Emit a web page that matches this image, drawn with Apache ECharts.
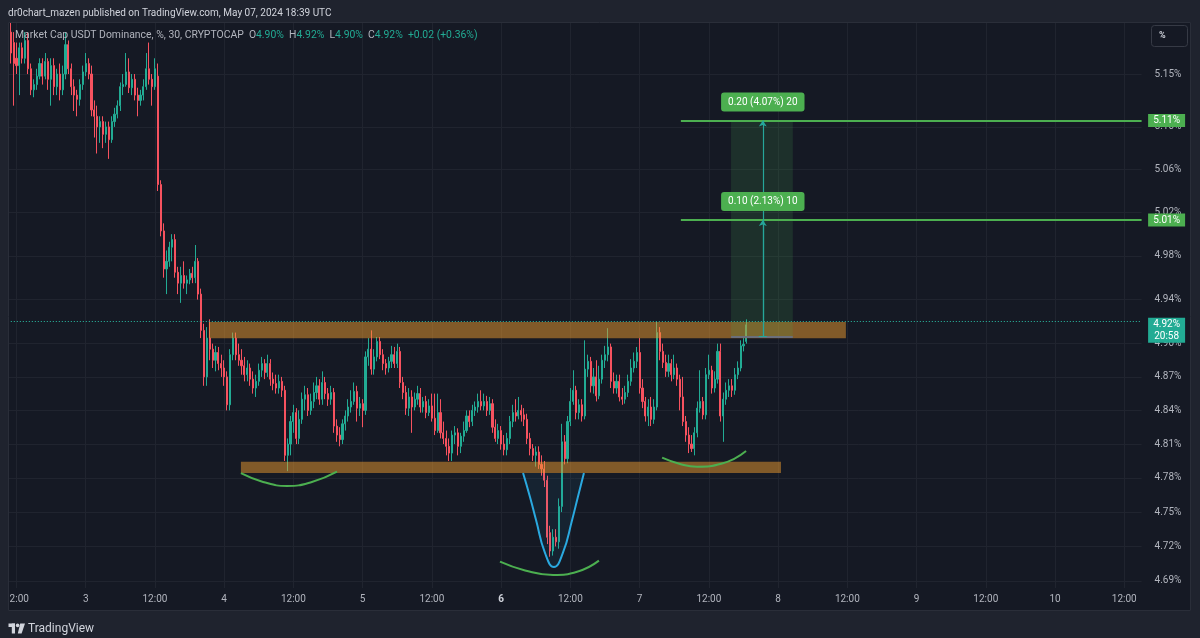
<!DOCTYPE html>
<html><head><meta charset="utf-8">
<script src="https://cdn.jsdelivr.net/npm/echarts@6/dist/echarts.min.js"></script>
<style>html,body{margin:0;padding:0;background:#1f232e}#c{width:1200px;height:638px}</style>
</head><body><div id="c"></div>
<script>
// ---------- time axis (30-minute bars) ----------
const startTimeUTC = Date.UTC(2024, 4, 3, 0, 0); // index 0 = May 3 00:00
const firstIndex = -27;   // leftmost category
const lastIndex = 366;    // rightmost category (empty future space)
const candleStart = -26;  // first drawn candle

// ---------- candles [open, high, low, close] ----------
const candles = [
[5.19,5.20,5.16,5.17],[5.18,5.19,5.12,5.16],[5.165,5.18,5.15,5.158],[5.158,5.18,5.13,5.175],[5.175,5.18,5.16,5.165],
[5.165,5.19,5.16,5.182],[5.182,5.19,5.15,5.155],[5.155,5.16,5.13,5.135],[5.135,5.145,5.128,5.14],[5.14,5.155,5.135,5.148],
[5.148,5.165,5.145,5.16],[5.16,5.165,5.14,5.148],[5.148,5.17,5.145,5.162],[5.162,5.165,5.135,5.145],[5.145,5.165,5.12,5.158],
[5.158,5.165,5.13,5.138],[5.138,5.155,5.13,5.15],[5.15,5.16,5.125,5.135],[5.135,5.158,5.13,5.15],[5.15,5.19,5.145,5.178],
[5.178,5.182,5.15,5.155],[5.155,5.16,5.13,5.138],[5.138,5.145,5.115,5.13],[5.13,5.135,5.11,5.126],[5.126,5.145,5.12,5.14],
[5.14,5.158,5.135,5.152],
// May 3
[5.152,5.17,5.148,5.16],[5.16,5.165,5.145,5.15],[5.15,5.158,5.11,5.116],[5.116,5.125,5.09,5.11],[5.11,5.12,5.075,5.10],
[5.10,5.11,5.085,5.105],[5.105,5.11,5.08,5.093],[5.093,5.105,5.085,5.10],[5.10,5.105,5.07,5.088],[5.088,5.11,5.085,5.105],
[5.105,5.118,5.10,5.112],[5.112,5.125,5.108,5.12],[5.12,5.142,5.115,5.138],[5.138,5.15,5.13,5.14],[5.14,5.17,5.138,5.152],
[5.152,5.165,5.132,5.137],[5.137,5.15,5.13,5.145],[5.145,5.15,5.125,5.13],[5.13,5.137,5.11,5.125],[5.125,5.135,5.12,5.13],
[5.13,5.145,5.125,5.138],[5.138,5.17,5.135,5.155],[5.155,5.18,5.14,5.145],[5.145,5.15,5.12,5.138],[5.138,5.165,5.135,5.155],
[5.148,5.16,5.04,5.046],[5.046,5.05,4.998,5.003],[5.003,5.01,4.96,4.968],[4.968,4.985,4.945,4.975],[4.975,4.993,4.97,4.988],
[4.988,5.0,4.975,4.995],[4.995,5.0,4.96,4.965],[4.965,4.97,4.945,4.955],[4.955,4.97,4.937,4.962],[4.962,4.975,4.95,4.955],
[4.955,4.962,4.945,4.958],[4.958,4.968,4.954,4.964],[4.964,4.97,4.955,4.96],[4.96,4.99,4.955,4.975],[4.975,4.978,4.94,4.945],
[4.945,4.95,4.905,4.912],[4.912,4.918,4.862,4.87],[4.87,4.915,4.862,4.905],[4.905,4.922,4.885,4.895],[4.895,4.9,4.878,4.885],
[4.885,4.898,4.875,4.892],[4.892,4.897,4.876,4.882],[4.882,4.89,4.87,4.878],
// May 4
[4.878,4.885,4.862,4.87],[4.87,4.875,4.84,4.845],[4.845,4.895,4.84,4.89],[4.89,4.91,4.885,4.905],[4.905,4.91,4.885,4.89],
[4.89,4.9,4.88,4.885],[4.885,4.895,4.872,4.88],[4.88,4.888,4.866,4.872],[4.872,4.885,4.866,4.878],[4.878,4.882,4.862,4.868],
[4.868,4.875,4.855,4.86],[4.86,4.872,4.852,4.866],[4.866,4.882,4.862,4.876],[4.876,4.888,4.87,4.882],[4.882,4.886,4.868,4.874],
[4.874,4.89,4.87,4.882],[4.882,4.886,4.862,4.868],[4.868,4.874,4.858,4.864],[4.864,4.872,4.855,4.86],[4.86,4.872,4.855,4.866],
[4.866,4.87,4.852,4.858],[4.858,4.862,4.795,4.80],[4.80,4.815,4.786,4.81],[4.81,4.835,4.80,4.83],[4.83,4.845,4.82,4.838],
[4.838,4.842,4.81,4.815],[4.815,4.84,4.81,4.832],[4.832,4.856,4.828,4.85],[4.85,4.862,4.84,4.854],[4.854,4.86,4.835,4.84],
[4.84,4.855,4.836,4.848],[4.848,4.865,4.842,4.856],[4.856,4.87,4.85,4.862],[4.862,4.868,4.845,4.85],[4.85,4.875,4.845,4.865],
[4.865,4.87,4.85,4.855],[4.855,4.86,4.844,4.85],[4.85,4.862,4.845,4.856],[4.856,4.86,4.82,4.826],[4.826,4.832,4.812,4.818],
[4.818,4.825,4.808,4.814],[4.814,4.832,4.81,4.828],[4.828,4.84,4.822,4.835],[4.835,4.85,4.83,4.843],[4.843,4.858,4.838,4.848],
[4.848,4.865,4.845,4.857],[4.857,4.862,4.83,4.842],[4.842,4.852,4.835,4.846],
// May 5
[4.846,4.85,4.825,4.84],[4.84,4.893,4.836,4.888],[4.888,4.905,4.88,4.895],[4.895,4.912,4.872,4.877],[4.877,4.895,4.872,4.888],
[4.888,4.906,4.884,4.902],[4.902,4.906,4.886,4.89],[4.89,4.895,4.876,4.882],[4.882,4.886,4.872,4.878],[4.878,4.888,4.874,4.884],
[4.884,4.898,4.878,4.89],[4.89,4.897,4.878,4.882],[4.882,4.9,4.878,4.893],[4.893,4.897,4.86,4.865],[4.865,4.87,4.85,4.856],
[4.856,4.862,4.836,4.842],[4.842,4.86,4.835,4.852],[4.852,4.858,4.82,4.843],[4.843,4.856,4.84,4.85],[4.85,4.862,4.845,4.855],
[4.855,4.86,4.838,4.843],[4.843,4.852,4.838,4.848],[4.848,4.853,4.833,4.838],[4.838,4.85,4.835,4.844],[4.844,4.855,4.83,4.833],
[4.833,4.855,4.818,4.822],[4.822,4.855,4.82,4.838],[4.838,4.85,4.815,4.82],[4.82,4.83,4.81,4.815],[4.815,4.822,4.80,4.808],
[4.808,4.815,4.795,4.802],[4.802,4.822,4.795,4.818],[4.818,4.826,4.81,4.82],[4.82,4.824,4.80,4.808],[4.808,4.82,4.802,4.817],
[4.817,4.83,4.812,4.822],[4.822,4.84,4.82,4.835],[4.835,4.84,4.825,4.83],[4.83,4.845,4.826,4.84],[4.84,4.848,4.835,4.843],
[4.843,4.855,4.838,4.848],[4.848,4.858,4.84,4.844],[4.844,4.855,4.84,4.848],[4.848,4.853,4.835,4.84],
// May 6
[4.84,4.852,4.836,4.846],[4.846,4.85,4.82,4.825],[4.825,4.832,4.812,4.815],[4.815,4.828,4.81,4.822],[4.822,4.826,4.805,4.81],
[4.81,4.818,4.80,4.805],[4.805,4.82,4.80,4.815],[4.815,4.835,4.81,4.83],[4.83,4.845,4.825,4.838],[4.838,4.85,4.83,4.835],
[4.835,4.852,4.832,4.84],[4.84,4.845,4.83,4.836],[4.836,4.842,4.826,4.832],[4.832,4.837,4.81,4.815],[4.815,4.82,4.80,4.806],
[4.806,4.81,4.795,4.80],[4.80,4.808,4.79,4.803],[4.803,4.808,4.788,4.792],[4.792,4.80,4.782,4.788],[4.788,4.795,4.772,4.778],
[4.778,4.782,4.722,4.728],[4.732,4.738,4.711,4.716],[4.716,4.735,4.712,4.728],[4.728,4.735,4.72,4.724],[4.724,4.762,4.718,4.755],
[4.755,4.828,4.75,4.812],[4.812,4.818,4.792,4.797],[4.797,4.835,4.793,4.83],[4.83,4.86,4.826,4.848],[4.848,4.876,4.845,4.858],
[4.858,4.862,4.832,4.838],[4.838,4.85,4.832,4.845],[4.845,4.85,4.83,4.835],[4.835,4.903,4.832,4.877],[4.877,4.89,4.87,4.884],
[4.884,4.888,4.856,4.862],[4.862,4.878,4.855,4.87],[4.87,4.885,4.848,4.853],[4.853,4.88,4.85,4.868],[4.868,4.89,4.864,4.885],
[4.885,4.898,4.878,4.89],[4.89,4.914,4.884,4.897],[4.897,4.90,4.86,4.866],[4.866,4.874,4.855,4.86],[4.86,4.872,4.855,4.866],
[4.866,4.872,4.848,4.852],[4.852,4.86,4.845,4.85],[4.85,4.862,4.846,4.856],
// May 7
[4.856,4.872,4.852,4.866],[4.866,4.886,4.862,4.878],[4.878,4.892,4.874,4.884],[4.884,4.897,4.878,4.892],[4.892,4.905,4.855,4.86],
[4.86,4.868,4.842,4.848],[4.848,4.852,4.83,4.835],[4.835,4.85,4.826,4.843],[4.843,4.852,4.826,4.832],[4.832,4.85,4.828,4.843],
[4.843,4.92,4.84,4.91],[4.91,4.915,4.885,4.893],[4.893,4.90,4.878,4.883],[4.883,4.89,4.87,4.875],[4.875,4.89,4.87,4.882],
[4.882,4.886,4.866,4.872],[4.872,4.89,4.868,4.878],[4.878,4.882,4.862,4.868],[4.868,4.872,4.84,4.852],[4.852,4.87,4.826,4.83],
[4.83,4.835,4.812,4.818],[4.818,4.825,4.802,4.81],[4.81,4.818,4.803,4.806],[4.806,4.825,4.80,4.82],[4.82,4.848,4.816,4.842],
[4.842,4.876,4.838,4.848],[4.848,4.852,4.832,4.836],[4.836,4.878,4.832,4.872],[4.872,4.89,4.868,4.876],[4.876,4.88,4.855,4.86],
[4.86,4.875,4.856,4.868],[4.868,4.9,4.864,4.893],[4.893,4.9,4.83,4.835],[4.835,4.856,4.812,4.85],[4.85,4.865,4.845,4.858],
[4.858,4.868,4.852,4.862],[4.862,4.868,4.852,4.858],[4.858,4.878,4.854,4.872],[4.872,4.884,4.868,4.878],[4.878,4.903,4.875,4.898],
[4.898,4.905,4.893,4.8994],[4.902,4.922,4.90,4.917]
];

// ---------- price scale labels ----------
const priceTicks = [4.69,4.72,4.75,4.78,4.81,4.84,4.87,4.90,4.94,4.98,5.02,5.06,5.10,5.15];
const priceMin = 4.6839, priceMax = 5.1997;

// ---------- drawings (x = bar index from May 3 00:00, y = price) ----------
const zones = [
  {from: 42.7, to: 263.5, low: 4.9048, high: 4.9196},
  {from: 53.8, to: 241.0, low: 4.7844, high: 4.7944}
];
const targetLevels = [{from: 206.3, price: 5.106}, {from: 206.3, price: 5.013}];
const measure = {from: 223.7, to: 245.1, x: 234.7, base: 4.9063};
const measureTexts = ['0.20 (4.07%) 20', '0.10 (2.13%) 10'];
const arcLeft = [[53.8,4.7842],[61.5,4.7765],[69.8,4.7730],[78.4,4.7765],[87.1,4.7856]];
const arcBottom = [[143.6,4.7067],[152.3,4.6991],[162.0,4.6952],[170.6,4.6982],[177.9,4.7076]];
const arcRight = [[199.8,4.7980],[206.0,4.7924],[211.9,4.7900],[220.6,4.7928],[228.9,4.8039]];
const cupU = [[151.6,4.7844],[154.0,4.7633],[156.1,4.7431],[159.2,4.7143],[162.3,4.7021],[165.4,4.7143],[168.6,4.7431],[170.6,4.7633],[172.7,4.7844]];
const countdown = '20:58';

// ---------- build ----------
function pad(n){return (n<10?'0':'')+n;}
const categories = [];
for (let i = firstIndex; i <= lastIndex; i++) {
  const t = new Date(startTimeUTC + i * 30 * 60000);
  categories.push(t.getUTCFullYear()+'-'+pad(t.getUTCMonth()+1)+'-'+pad(t.getUTCDate())+' '+pad(t.getUTCHours())+':'+pad(t.getUTCMinutes()));
}
const candleData = categories.map((c, k) => {
  const d = candles[firstIndex + k - candleStart];
  return d ? [d[0], d[3], d[2], d[1]] : '-';
});
function isMajor(name){ const hm = name.slice(11); return hm === '00:00' || hm === '12:00'; }
function tickText(name){
  const hm = name.slice(11);
  if (hm === '12:00') return '12:00';
  const day = String(parseInt(name.slice(8,10),10));
  return day === '6' ? '{b|6}' : day;
}
const last = candles[candles.length-1], prev = candles[candles.length-2];
const chg = last[3]-prev[3], chgPct = chg/prev[3]*100;
const UP = '#22ab94', DOWN = '#f7525f', GREEN = '#4caf50', TEAL = '#26a69a';
const FONT = 'Roboto, "Noto Sans", sans-serif';

const chart = echarts.init(document.getElementById('c'));
chart.setOption({
  animation: false,
  backgroundColor: '#151924',
  textStyle: {fontFamily: FONT},
  grid: {left: 7.8, right: 58.4, top: 22, bottom: 50},
  xAxis: [{
    type: 'category', data: categories, boundaryGap: false,
    axisLine: {show: false}, axisTick: {show: false},
    axisLabel: {interval: (i, v) => isMajor(v), formatter: (v) => tickText(v), color: '#b2b5be', fontSize: 10, margin: 6,
      rich: {b: {fontWeight: 'bold', color: '#d1d4dc', fontSize: 10}}},
    splitLine: {show: true, interval: (i, v) => isMajor(v), lineStyle: {color: '#20242f', width: 1}}
  }, {
    type: 'value', min: firstIndex, max: lastIndex, show: false, splitLine: {show: false}
  }],
  yAxis: {
    type: 'log', logBase: 10, min: priceMin, max: priceMax, position: 'right',
    axisLine: {show: false},
    axisTick: {show: false, customValues: priceTicks},
    axisLabel: {customValues: priceTicks, formatter: (v) => Number(v).toFixed(2) + '%', color: '#b2b5be', fontSize: 10, margin: 13},
    splitLine: {show: true, lineStyle: {color: '#20242f', width: 1}}
  },
  series: [{
    type: 'candlestick', data: candleData, barWidth: 1.6,
    itemStyle: {color: UP, color0: DOWN, borderColor: UP, borderColor0: DOWN, borderWidth: 1},
    markLine: {silent: true, symbol: ['none','none'], z: 6, label: {show: false},
      data: [{yAxis: last[3], lineStyle: {color: '#2bbfa6', type: [1,2], width: 1, opacity: 1}}]}
  }, {
    type: 'line', xAxisIndex: 1, data: [], z: 3,
    markArea: {silent: true, z: 3,
      data: zones.map(z => [{coord: [z.from, z.high], itemStyle: {color: 'rgba(238,155,45,0.5)'}}, {coord: [z.to, z.low]}])
        .concat([[{coord: [measure.from, targetLevels[0].price], itemStyle: {color: 'rgba(76,175,80,0.16)'}}, {coord: [measure.to, measure.base]}]])},
    markLine: {silent: true, z: 5, symbol: ['none','none'],
      data: targetLevels.map(l => [{coord: [l.from, l.price], lineStyle: {color: GREEN, width: 2, type: 'solid'}, label: {show: false}}, {coord: [lastIndex, l.price]}])
        .concat([
          [{coord: [measure.from, measure.base], lineStyle: {color: '#6b6f7b', width: 2, type: 'solid'}, label: {show: false}}, {coord: [measure.to, measure.base]}],
          [{coord: [measure.x - 1.4, measure.base], lineStyle: {color: TEAL, width: 1, type: 'solid'}, label: {show: false}}, {coord: [measure.x + 1.4, measure.base]}],
          [{coord: [measure.x, measure.base], symbol: 'none', lineStyle: {color: TEAL, width: 1.2, type: 'solid'},
            label: {show: true, position: 'end', distance: 9, formatter: measureTexts[0], backgroundColor: GREEN, color: '#fff', borderRadius: 3, padding: [4,7,4,7], fontSize: 10, lineHeight: 11}},
           {coord: [measure.x, targetLevels[0].price], symbol: 'arrow', symbolSize: 6}],
          [{coord: [measure.x, measure.base], symbol: 'none', lineStyle: {color: TEAL, width: 1.2, type: 'solid'},
            label: {show: true, position: 'end', distance: 9, formatter: measureTexts[1], backgroundColor: GREEN, color: '#fff', borderRadius: 3, padding: [4,7,4,7], fontSize: 10, lineHeight: 11}},
           {coord: [measure.x, targetLevels[1].price], symbol: 'arrow', symbolSize: 6}]
        ])},
    markPoint: {silent: true, z: 7,
      data: targetLevels.map(l => ({coord: [lastIndex, l.price], symbol: 'rect', symbolSize: [37, 13], symbolOffset: [25, 0],
          itemStyle: {color: GREEN}, label: {show: true, position: 'inside', formatter: l.price.toFixed(2) + '%', color: '#fff', fontSize: 10}}))
        .concat([{coord: [lastIndex, last[3]], symbol: 'rect', symbolSize: [37, 25], symbolOffset: [25, 5.5],
          itemStyle: {color: UP}, label: {show: true, position: 'inside', formatter: last[3].toFixed(2) + '%\n' + countdown, color: '#fff', fontSize: 10, lineHeight: 12}}])}
  }, {
    type: 'line', xAxisIndex: 1, data: cupU, smooth: 0.5, symbol: 'none', z: 4,
    lineStyle: {color: '#2aa9e0', width: 2},
    areaStyle: {origin: cupU[0][1], color: 'rgba(42,169,224,0.10)'}
  }].concat([arcLeft, arcBottom, arcRight].map(a => ({
    type: 'line', xAxisIndex: 1, data: a, smooth: 0.5, symbol: 'none', z: 4, lineStyle: {color: GREEN, width: 2}
  }))),
  graphic: [
    {type: 'rect', z: 50, silent: true, shape: {x: 0, y: 0, width: 1200, height: 22}, style: {fill: '#1f232e'}},
    {type: 'rect', z: 50, silent: true, shape: {x: 0, y: 611, width: 1200, height: 27}, style: {fill: '#1f232e'}},
    {type: 'rect', z: 50, silent: true, shape: {x: 0, y: 0, width: 8, height: 638}, style: {fill: '#1f232e'}},
    {type: 'rect', z: 50, silent: true, shape: {x: 1191, y: 0, width: 9, height: 638}, style: {fill: '#1f232e'}},
    {type: 'rect', z: 51, silent: true, shape: {x: 8.5, y: 22.5, width: 1182, height: 588}, style: {fill: 'none', stroke: '#2a2e39', lineWidth: 1}},
    {type: 'text', z: 60, silent: true, x: 8, y: 13, style: {text: 'dr0chart_mazen published on TradingView.com, May 07, 2024 18:39 UTC', fill: '#d1d4dc', font: '10px ' + FONT, verticalAlign: 'middle'}},
    {type: 'text', z: 60, silent: true, x: 15, y: 35, style: {
      text: '{n|Market Cap USDT Dominance, %, 30, CRYPTOCAP}  {n|O}{v|' + last[0].toFixed(2) + '%}  {n|H}{v|' + last[1].toFixed(2) + '%}  {n|L}{v|' + last[2].toFixed(2) + '%}  {n|C}{v|' + last[3].toFixed(2) + '%}  {v|' + (chg>=0?'+':'') + chg.toFixed(2) + ' (' + (chg>=0?'+':'') + chgPct.toFixed(2) + '%)}',
      verticalAlign: 'middle', font: '10.4px ' + FONT,
      rich: {n: {fill: '#b2b5be', fontSize: 10.4, fontFamily: FONT}, v: {fill: UP, fontSize: 10.4, fontFamily: FONT}}}},
    {type: 'rect', z: 60, silent: true, shape: {x: 1151.5, y: 25.5, width: 36, height: 21, r: 3}, style: {fill: 'none', stroke: '#363a45', lineWidth: 1}},
    {type: 'text', z: 60, silent: true, x: 1159, y: 36, style: {text: '%', fill: '#d1d4dc', font: 'bold 9px ' + FONT, verticalAlign: 'middle'}},
    {type: 'rect', z: 60, silent: true, shape: {x: 8.5, y: 623.5, width: 6.5, height: 3.5}, style: {fill: '#d1d4dc'}},
    {type: 'rect', z: 60, silent: true, shape: {x: 11.8, y: 623.5, width: 3.2, height: 10}, style: {fill: '#d1d4dc'}},
    {type: 'circle', z: 60, silent: true, shape: {cx: 17.6, cy: 625.4, r: 1.8}, style: {fill: '#d1d4dc'}},
    {type: 'polygon', z: 60, silent: true, shape: {points: [[20.2,623.5],[25,623.5],[21.6,633.5],[17.8,633.5]]}, style: {fill: '#d1d4dc'}},
    {type: 'text', z: 60, silent: true, x: 28, y: 628.5, style: {text: 'TradingView', fill: '#d1d4dc', font: '12px ' + FONT, verticalAlign: 'middle'}}
  ]
});
</script>
</body></html>
